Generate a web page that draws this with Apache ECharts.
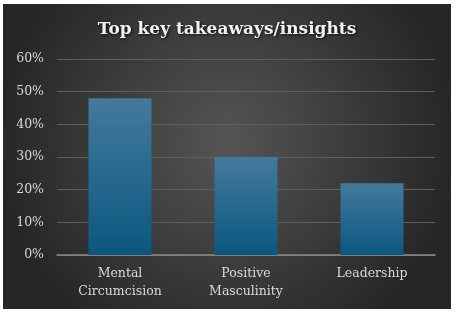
<!DOCTYPE html>
<html><head><meta charset="utf-8">
<script src="https://cdn.jsdelivr.net/npm/echarts@6/dist/echarts.min.js"></script>
<style>
html,body{margin:0;padding:0;background:#fff;}
#c{position:absolute;left:3px;top:4px;width:448px;height:305px;}
</style></head>
<body><div id="c"></div>
<script>
const title = 'Top key takeaways/insights';
const categories = ['Mental\nCircumcision', 'Positive\nMasculinity', 'Leadership'];
const values = [48, 30, 22];
const yTicks = [0, 10, 20, 30, 40, 50, 60];

const chart = echarts.init(document.getElementById('c'));
chart.setOption({
  backgroundColor: {type:'radial', x:0.5, y:0.45, r:0.75, colorStops:[{offset:0,color:'#555555'},{offset:1,color:'#262626'}]},
  title: {text: title, left:'center', top:12,
    textStyle:{fontFamily:'DejaVu Serif', fontWeight:'bold', fontSize:17, color:'#f2f2f2', textShadowColor:'rgba(0,0,0,0.8)', textShadowBlur:3, textShadowOffsetX:1, textShadowOffsetY:1}},
  grid: {left:54, right:16, top:55, bottom:54},
  xAxis: {type:'category', data: categories,
    axisLine:{lineStyle:{color:'#8c8c8c', width:1.5}}, axisTick:{show:false},
    axisLabel:{color:'#d9d9d9', fontFamily:'DejaVu Serif', fontSize:12.5, lineHeight:18, margin:10}},
  yAxis: {type:'value', min:yTicks[0], max:yTicks[yTicks.length-1], interval:10,
    axisLabel:{formatter:'{value}%', color:'#d9d9d9', fontFamily:'DejaVu Serif', fontSize:12.5, margin:13},
    splitLine:{lineStyle:{color:'#5e5e5e', width:1}}, axisLine:{show:false}},
  series: [{type:'bar', data: values, barWidth:'50%',
    itemStyle:{color:{type:'linear', x:0,y:0,x2:0,y2:1, colorStops:[{offset:0,color:'#437a9c'},{offset:1,color:'#0b5780'}]},
      shadowColor:'rgba(0,0,0,0.5)', shadowBlur:4, shadowOffsetX:1, shadowOffsetY:1}}]
});
</script></body></html>
